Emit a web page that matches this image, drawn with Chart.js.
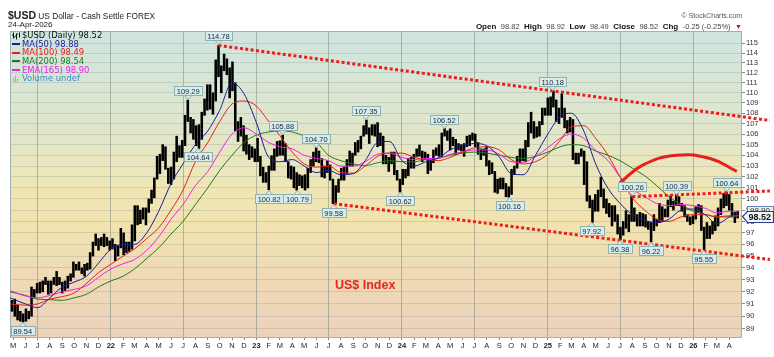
<!DOCTYPE html>
<html><head><meta charset="utf-8">
<script src="https://cdn.jsdelivr.net/npm/chart.js@4.4.1/dist/chart.umd.min.js"></script>
<style>
html,body{margin:0;padding:0;background:#fff;}
#wrap{position:relative;width:774px;height:357px;overflow:hidden;background:#fff;}
#c{position:absolute;left:0;top:0;}
.t{position:absolute;white-space:nowrap;font-family:"Liberation Sans",Arial,sans-serif;color:#222;}
.r{text-align:right;}
.ohlc b{font-size:8px;color:#111;}
.ohlc span{font-size:7.5px;color:#444;}
</style></head><body>
<div id="wrap">
<canvas id="c" width="774" height="357"></canvas>
<div class="t" style="left:8px;top:9px;font-size:8.3px;line-height:12px;"><b style="font-size:10.5px;">$USD</b> US Dollar - Cash Settle FOREX</div>
<div class="t" style="left:8px;top:20px;font-size:8px;line-height:10px;">24-Apr-2026</div>
<div class="t r" style="right:32px;top:11px;font-size:7px;line-height:9px;color:#555;">&copy; StockCharts.com</div>
<div class="t r ohlc" style="right:32px;top:19px;line-height:10px;"><b>Open</b> <span>98.82</span> <b>High</b> <span>98.92</span> <b>Low</b> <span>98.49</span> <b>Close</b> <span>98.52</span> <b>Chg</b> <span>-0.25 (-0.25%)</span> <span style="color:#c0143c;font-size:7px;">&#9660;</span></div>
</div>
<script>
// ---------------- DATA ----------------
const firstWeekMonday = '2021-04-26';
const lastCloseValue = 98.52;

const weekLow2021 = [90.4,90.0,89.7,89.6,89.54,89.6,89.8,90.0,91.5,91.9,91.9,92.0,92.6,91.8,91.9,92.6,92.5,92.6,91.9,92.1,92.3,92.9,93.2,93.8,93.8,93.5,93.3,93.8,93.9,95.0,95.9,95.5,95.9,95.8,95.9,95.5];
const weekHigh2021 = [91.3,91.4,90.9,90.4,90.2,90.6,90.4,92.4,92.2,92.7,92.8,92.9,93.2,92.9,92.9,93.2,93.7,93.2,92.8,92.9,93.3,93.5,94.5,94.3,94.5,94.0,94.3,94.4,95.3,96.2,96.9,96.5,96.6,96.9,96.6,96.3];
const weekLow2022 = [95.6,94.6,95.0,95.7,95.1,95.3,95.4,95.6,96.3,97.7,97.8,98.2,97.7,98.8,99.6,100.1,101.8,102.3,103.5,102.7,101.4,101.3,101.8,103.4,103.8,103.8,104.9,107.2,106.1,105.5,104.9,104.64,105.5,107.8,108.3,108.4,107.9,109.2,111.6,110.0,112.2,111.8,109.5,110.2,106.3,105.3,105.8,104.4,104.1,103.6,103.8,103.4];
const weekHigh2022 = [96.5,96.0,95.9,97.4,97.0,96.2,96.2,97.7,99.4,99.4,99.0,99.2,99.2,100.0,100.8,101.9,103.9,104.1,105.0,104.8,102.8,102.9,104.3,105.8,104.9,105.4,107.8,109.29,107.6,107.4,106.8,106.9,108.1,109.4,110.8,110.8,110.0,113.3,114.78,112.7,113.9,113.4,112.5,113.1,111.0,107.2,107.6,106.8,105.9,105.0,104.8,104.6];
const weekLow2023 = [103.4,102.1,101.5,101.5,100.82,102.6,102.6,103.9,104.0,104.0,103.4,101.9,101.8,101.0,100.79,101.2,101.0,100.8,101.0,102.4,103.0,103.4,103.3,102.0,101.9,102.4,101.7,99.58,99.6,100.6,101.7,101.7,102.3,103.0,103.0,104.0,104.3,104.6,105.8,106.0,105.1,105.9,105.8,104.8,104.9,103.2,103.2,102.5,103.2,102.2,101.7,100.62];
const weekHigh2023 = [105.6,103.9,102.9,102.4,103.0,103.96,104.6,105.3,105.36,105.88,105.1,103.4,103.0,102.9,102.4,102.2,102.1,102.2,102.8,103.6,104.3,104.7,104.4,103.7,103.0,103.5,103.1,101.8,101.2,101.8,102.8,102.9,103.6,104.4,104.2,105.2,105.4,105.8,106.8,107.35,106.6,106.9,106.9,107.1,106.1,105.8,104.0,103.8,104.3,104.3,102.6,101.8];
const weekLow2024 = [101.3,101.9,102.1,102.8,102.8,103.9,103.9,103.4,103.6,102.3,102.6,103.3,104.0,103.9,103.9,105.8,105.4,104.5,104.9,104.1,104.5,104.4,103.9,104.8,104.9,105.4,104.8,104.1,103.6,104.0,103.0,102.2,102.3,100.6,100.5,100.9,100.9,100.2,100.16,100.4,102.2,102.8,103.3,103.5,103.4,104.8,106.1,105.6,105.7,105.8,106.9,107.8,107.8];
const weekHigh2024 = [102.7,102.7,103.7,103.8,104.1,104.6,104.97,104.4,104.3,104.1,103.5,104.5,104.7,105.0,106.1,106.52,106.3,106.5,105.7,105.5,105.1,105.0,105.1,105.8,105.9,106.1,106.0,105.2,104.6,104.6,104.8,103.5,103.3,102.5,101.8,101.9,101.9,101.4,101.1,102.7,103.0,103.9,104.6,104.6,105.4,107.1,108.1,107.2,106.7,107.2,108.5,108.5,109.5];
const weekLow2025 = [107.8,108.6,107.2,107.0,107.6,106.6,106.1,106.2,103.6,103.2,103.2,103.9,101.3,99.8,99.2,97.92,98.9,98.9,100.2,99.2,98.7,98.4,97.6,98.0,96.9,96.38,96.8,97.4,97.1,98.0,98.0,97.6,97.6,97.6,97.5,97.3,96.22,97.2,97.6,97.9,98.0,98.4,98.4,99.3,99.0,99.4,99.4,98.9,98.4,98.0,97.7,97.8];
const weekHigh2025 = [109.6,110.18,109.3,108.5,109.9,108.5,107.3,107.6,107.4,104.2,104.2,104.6,104.4,103.4,100.3,99.9,100.4,100.8,101.98,100.9,100.0,99.6,99.4,99.4,98.6,97.5,98.0,98.95,98.6,100.26,99.2,98.6,98.8,98.7,98.6,98.0,97.9,98.6,98.2,99.6,99.3,99.1,99.9,100.3,99.8,100.39,100.2,99.6,99.4,98.6,98.4,98.5];
const weekLow2026 = [98.2,98.8,97.2,95.55,96.5,96.5,96.9,97.2,97.6,98.6,99.2,99.4,99.0,98.4,97.9,98.3];
const weekHigh2026 = [99.3,99.5,99.4,97.5,97.9,97.6,98.0,98.5,99.2,100.0,100.5,100.64,100.4,99.6,98.8,98.9];

// moving averages read at each month start (May 2021 ... Apr 2026), plus the last day
const maFirstMonth = '2021-05-01';
const maLastDay = '2026-04-24';
const ma50 = [91.5,91.0,90.7,91.5,92.4,92.8,93.3,94.4,
  95.6,96.0,96.0,97.0,98.9,101.4,103.2,105.0,106.3,108.3,111.0,109.9,
  107.1,103.8,103.4,103.6,103.0,102.4,102.6,102.2,102.3,103.5,105.2,105.3,
  103.5,103.0,103.4,103.75,104.5,104.95,105.1,104.9,103.85,102.3,102.2,104.0,
  106.0,107.7,108.0,106.3,103.2,100.95,99.6,98.6,98.1,97.9,98.2,99.0,
  99.1,98.55,97.8,98.4, 98.88];
const ma100 = [91.0,90.9,91.0,91.4,91.6,91.9,92.7,93.6,
  94.3,95.0,95.6,96.5,97.45,99.0,100.8,103.4,105.2,107.2,108.9,109.2,
  108.7,107.2,105.85,104.3,103.2,102.9,103.0,102.4,102.35,103.0,103.9,104.2,
  104.2,103.8,103.6,103.5,103.8,104.3,104.7,104.8,104.5,103.6,103.2,103.4,
  104.1,105.4,106.7,106.8,105.6,104.0,102.0,100.1,99.0,98.2,98.0,98.4,
  98.6,98.6,98.4,98.5, 98.49];
const ma200 = [92.0,91.7,91.4,91.35,91.3,91.5,91.8,92.4,
  92.9,93.3,93.9,94.8,95.7,96.9,98.0,99.5,101.0,102.6,104.0,105.2,
  105.9,106.2,106.3,106.2,105.8,105.2,104.0,103.5,103.2,103.05,103.3,103.5,
  103.4,103.4,103.6,103.7,104.0,104.2,104.3,104.2,104.0,103.8,103.7,103.9,
  104.3,104.8,105.0,104.9,104.4,104.0,103.5,102.8,102.1,101.2,100.2,99.5,
  98.9,98.6,98.4,98.4, 98.54];
const ema165 = [92.1,91.65,91.5,91.7,92.0,92.2,92.5,93.2,
  93.9,94.35,94.7,95.5,96.65,98.2,99.5,101.2,102.5,104.3,106.0,106.6,
  106.0,105.2,104.8,104.6,104.0,103.7,103.5,103.0,103.0,103.4,104.1,104.2,
  103.8,103.6,103.7,103.7,104.1,104.3,104.5,104.5,104.1,103.4,103.35,103.9,
  104.7,105.6,106.0,105.6,104.45,103.5,102.0,100.9,100.2,99.6,99.4,99.5,
  99.4,99.15,98.75,98.9, 98.90];

// price callouts
const calloutDates  = ['2021-05-25','2022-07-14','2022-08-08','2022-09-28','2023-02-02','2023-03-08','2023-04-14','2023-05-31','2023-07-14','2023-10-03','2023-12-28','2024-04-16','2024-09-27','2025-01-13','2025-04-21','2025-07-01','2025-08-01','2025-09-17','2025-11-20','2026-01-27','2026-03-26'];
const calloutValues = [89.54,109.29,104.64,114.78,100.82,105.88,100.79,104.70,99.58,107.35,100.62,106.52,100.16,110.18,97.92,96.38,100.26,96.22,100.39,95.55,100.64];
const calloutAbove  = [false,true,false,true,false,true,false,true,false,true,false,true,false,true,false,false,true,false,true,false,true];

// hand-drawn trend lines (date, value)
const upperTrendDates = ['2022-09-28','2026-07-12'];
const upperTrendValues = [114.78, 107.3];
const lowerTrendDates = ['2023-07-14','2026-07-12'];
const lowerTrendValues = [99.58, 94.7];
const midTrendDates = ['2025-08-01','2026-07-12'];
const midTrendValues = [100.2, 100.72];
const arcDates = ['2025-07-01','2025-08-28','2025-11-20','2026-02-12','2026-04-20'];
const arcValues = [101.47, 103.1, 104.0, 103.7, 102.5];

const annotationText = 'US$ Index';
const annotationDate = '2023-07-17';
const annotationValue = 92.5;

const yTickValues = [89,90,91,92,93,94,95,96,97,98,99,100,101,102,103,104,105,106,107,108,109,110,111,112,113,114,115];
const monthLetters = ['J','F','M','A','M','J','J','A','S','O','N','D'];

const legendRows = [
  {text:'$USD (Daily) 98.52', color:'#111111', icon:'ohlc'},
  {text:'MA(50) 98.88', color:'#1c1c9a', icon:'line'},
  {text:'MA(100) 98.49', color:'#e3231c', icon:'line'},
  {text:'MA(200) 98.54', color:'#1f7a1f', icon:'line'},
  {text:'EMA(165) 98.90', color:'#f01ef0', icon:'line'},
  {text:'Volume undef', color:'#3a8ec8', icon:'vol'}
];

// ---------------- HELPERS ----------------
function dayNum(s){ const p=s.split('-').map(Number); return (Date.UTC(p[0],p[1]-1,p[2])-Date.UTC(2022,0,1))/864e5; }
function dayYMD(y,m,d){ return (Date.UTC(y,m-1,d)-Date.UTC(2022,0,1))/864e5; }
const X_MIN = dayNum('2021-04-23');
const X_MAX = dayNum('2026-05-03');
const Y_MIN = 88.26, Y_MAX = 116.28;

const weekLows = [].concat(weekLow2021,weekLow2022,weekLow2023,weekLow2024,weekLow2025,weekLow2026);
const weekHighs = [].concat(weekHigh2021,weekHigh2022,weekHigh2023,weekHigh2024,weekHigh2025,weekHigh2026);
const w0 = dayNum(firstWeekMonday);
const priceBars = weekLows.map((lo,i)=>({x: w0 + 7*i + 2, y:[lo, weekHighs[i]]}));

const m0 = maFirstMonth.split('-').map(Number);
function maSeries(arr){
  return arr.map((v,k)=>{
    let x;
    if (k===arr.length-1) x = dayNum(maLastDay);
    else if (k===0) x = X_MIN;
    else x = dayYMD(m0[0], m0[1]+k, 1);
    return {x, y:v};
  });
}
function pairs(dates, vals){ return dates.map((d,i)=>({x:dayNum(d), y:vals[i]})); }

const monthTickDays=[], monthTickText=[], monthTickYear=[], monthTickGrid=[];
for (let k=0;k<60;k++){
  const mi=(4+k)%12, yr=2021+Math.floor((4+k)/12);
  monthTickDays.push(dayYMD(yr,mi+1,1));
  monthTickText.push(mi===0 ? String(yr).slice(2) : monthLetters[mi]);
  monthTickYear.push(mi===0);
  monthTickGrid.push(mi===0 || mi===6);
}

// ---------------- PLUGINS ----------------
const bgPlugin = {
  id:'bg',
  beforeDraw(chart){
    const {ctx, chartArea:a} = chart;
    const g = ctx.createLinearGradient(0,a.top,0,a.bottom);
    g.addColorStop(0,'#cfe5e0');
    g.addColorStop(0.3,'#dfe6cc');
    g.addColorStop(0.5,'#efe6b6');
    g.addColorStop(0.62,'#f2e3ae');
    g.addColorStop(0.82,'#efd9b6');
    g.addColorStop(1,'#ecd1bc');
    ctx.save(); ctx.fillStyle=g; ctx.fillRect(a.left,a.top,a.right-a.left,a.bottom-a.top); ctx.restore();
  },
  beforeDatasetsDraw(chart){
    const {ctx, chartArea:a} = chart;
    ctx.save(); ctx.strokeStyle='#9fb2b0'; ctx.lineWidth=1;
    ctx.strokeRect(a.left+0.5,a.top+0.5,a.right-a.left-1,a.bottom-a.top-1);
    ctx.restore();
  }
};

function callout(ctx, px, py, text, above){
  ctx.font='7.5px "Liberation Sans", Arial';
  const w = Math.round(ctx.measureText(text).width)+5, h=9;
  const bx = Math.round(px - w/2)+0.5;
  const tip = above ? Math.round(py)-0.5 : Math.round(py)+0.5;
  const by = above ? tip - 4 - h : tip + 4;
  ctx.fillStyle='#d7ecec'; ctx.strokeStyle='#8fb1b1'; ctx.lineWidth=1;
  ctx.beginPath();
  if (above){ ctx.moveTo(px-3.5, by+h); ctx.lineTo(px, tip); ctx.lineTo(px+3.5, by+h); }
  else { ctx.moveTo(px-3.5, by); ctx.lineTo(px, tip); ctx.lineTo(px+3.5, by); }
  ctx.closePath(); ctx.fill(); ctx.stroke();
  ctx.fillRect(bx, by, w, h); ctx.strokeRect(bx, by, w, h);
  ctx.fillStyle='#1d2a35'; ctx.textAlign='center'; ctx.textBaseline='middle';
  ctx.fillText(text, px, by+h/2+0.5);
}

const overlayPlugin = {
  id:'overlay',
  afterDatasetsDraw(chart){
    const {ctx, chartArea:a, scales:{x, y}} = chart;
    ctx.save();
    calloutDates.forEach((d,i)=>{
      callout(ctx, x.getPixelForValue(dayNum(d)), y.getPixelForValue(calloutValues[i]), calloutValues[i].toFixed(2), calloutAbove[i]);
    });
    ctx.font='bold 12.5px "Liberation Sans", Arial';
    ctx.fillStyle='#e8261c'; ctx.textAlign='left'; ctx.textBaseline='middle';
    ctx.fillText(annotationText, x.getPixelForValue(dayNum(annotationDate)), y.getPixelForValue(annotationValue));
    ctx.font='8.4px "DejaVu Sans", Verdana';
    ctx.textBaseline='middle'; ctx.textAlign='left';
    legendRows.forEach((r,i)=>{
      const cy = a.top + 4.5 + i*8.65;
      const lx = a.left + 2;
      if (r.icon==='line'){ ctx.fillStyle=r.color; ctx.fillRect(lx, Math.round(cy)-1, 8, 2); }
      else if (r.icon==='ohlc'){
        ctx.fillStyle='#111';
        ctx.fillRect(lx+1, cy-3, 1, 6); ctx.fillRect(lx, cy-1, 1, 1); ctx.fillRect(lx+2, cy+1, 1, 1);
        ctx.fillRect(lx+4, cy-2, 1, 6); ctx.fillRect(lx+3, cy, 1, 1); ctx.fillRect(lx+5, cy-2, 1, 1);
        ctx.fillRect(lx+7, cy-3, 1, 5);
      } else {
        ctx.fillStyle='#c8a850';
        ctx.fillRect(lx+1, cy-1, 1, 4); ctx.fillRect(lx+3, cy-3, 1, 6); ctx.fillRect(lx+5, cy, 1, 3);
      }
      ctx.fillStyle=r.color;
      ctx.fillText(r.text, lx+10, cy+0.5);
    });
    ctx.restore();
  },
  afterDraw(chart){
    const {ctx, chartArea:a, scales:{y}} = chart;
    ctx.save();
    const py = Math.round(y.getPixelForValue(lastCloseValue));
    const bx = a.right + 1;
    ctx.fillStyle='#e9eef7'; ctx.strokeStyle='#6f7fb8'; ctx.lineWidth=1;
    ctx.fillRect(bx+4.5, py-9.5, 26, 8); ctx.strokeRect(bx+4.5, py-9.5, 26, 8);
    ctx.font='8px "Liberation Sans", Arial'; ctx.fillStyle='#333'; ctx.textAlign='left'; ctx.textBaseline='middle';
    ctx.fillText('98.90', bx+7, py-5.5);
    ctx.beginPath();
    ctx.moveTo(bx-0.5, py+0.5); ctx.lineTo(bx+4.5, py-4.5); ctx.lineTo(bx+30.5, py-4.5);
    ctx.lineTo(bx+30.5, py+6.5); ctx.lineTo(bx+4.5, py+6.5); ctx.closePath();
    ctx.fillStyle='#f4f7fb'; ctx.fill(); ctx.strokeStyle='#2b3f95'; ctx.lineWidth=1.2; ctx.stroke();
    ctx.font='bold 9px "Liberation Sans", Arial'; ctx.fillStyle='#111';
    ctx.fillText(lastCloseValue.toFixed(2), bx+5.5, py+1.3);
    ctx.restore();
  }
};

// ---------------- CHART ----------------
const lineDs = (label, data, color, order) => ({type:'line', label, data, borderColor:color, borderWidth:1, pointRadius:0, cubicInterpolationMode:'monotone', fill:false, order});
const dotted = (data) => ({type:'line', data, borderColor:'#ee1b1b', borderWidth:3, borderDash:[3,2.4], pointRadius:0, fill:false, tension:0, clip:false, order:1});

new Chart(document.getElementById('c'), {
  type:'line',
  data:{ datasets:[
    {type:'bar', label:'$USD', data:priceBars, backgroundColor:'#000', borderWidth:0, barThickness:1.9, order:10},
    lineDs('MA(200)', maSeries(ma200), '#1f7a1f', 6),
    lineDs('EMA(165)', maSeries(ema165), '#f01ef0', 5),
    lineDs('MA(100)', maSeries(ma100), '#e3231c', 4),
    lineDs('MA(50)', maSeries(ma50), '#1c1c9a', 3),
    dotted(pairs(upperTrendDates, upperTrendValues)),
    dotted(pairs(lowerTrendDates, lowerTrendValues)),
    dotted(pairs(midTrendDates, midTrendValues)),
    {type:'line', data:pairs(arcDates, arcValues), borderColor:'#e8201c', borderWidth:3, pointRadius:0, fill:false, tension:0.45, order:0}
  ]},
  options:{
    responsive:false, animation:false, devicePixelRatio:1, events:[],
    layout:{ padding:{top:31, left:10, right:0, bottom:0} },
    plugins:{ legend:{display:false}, tooltip:{enabled:false} },
    scales:{
      x:{ type:'linear', bounds:'data', min:X_MIN, max:X_MAX, offset:false,
        afterBuildTicks:s=>{ s.ticks = monthTickDays.map(v=>({value:v})); },
        afterFit:s=>{ s.height = 19; },
        ticks:{ autoSkip:false, maxRotation:0, padding:1, color:'#222',
          callback:(v,i)=>monthTickText[i],
          font:c=>({family:'"Liberation Sans", Arial', size:7.5, weight:(c.index!=null && monthTickYear[c.index])?'bold':'normal'}) },
        grid:{ offset:false, drawTicks:true, tickLength:2, tickColor:'#888',
          color:c=>(c.index!=null && monthTickGrid[c.index]) ? 'rgba(125,138,132,0.55)' : 'rgba(0,0,0,0)' },
        border:{display:false}
      },
      y:{ type:'logarithmic', position:'right', bounds:'data', min:Y_MIN, max:Y_MAX,
        afterBuildTicks:s=>{ s.ticks = yTickValues.map(v=>({value:v})); },
        afterFit:s=>{ s.width = 32; },
        ticks:{ autoSkip:false, padding:1, color:'#333', callback:v=>String(v), font:{family:'"Liberation Sans", Arial', size:7.5} },
        grid:{ color:'rgba(150,162,156,0.35)', tickLength:3, tickColor:'#888' },
        border:{display:false}
      }
    }
  },
  plugins:[bgPlugin, overlayPlugin]
});
</script>
</body></html>
